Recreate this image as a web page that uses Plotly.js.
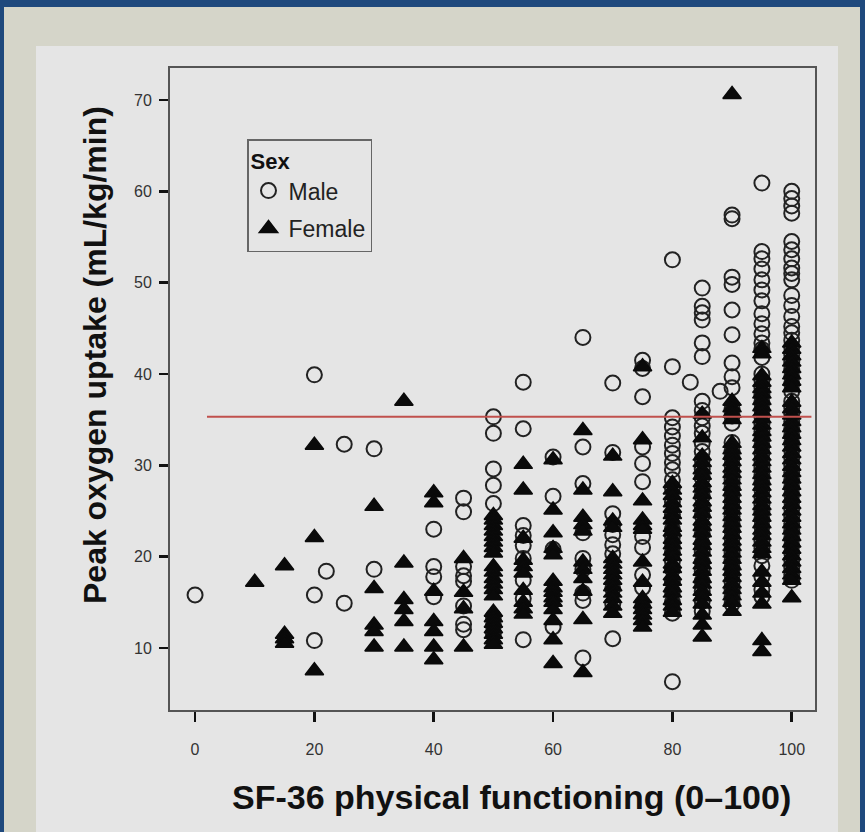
<!DOCTYPE html>
<html>
<head>
<meta charset="utf-8">
<script src="https://cdn.plot.ly/plotly-3.0.1.min.js"></script>
<style>
html,body{margin:0;padding:0;background:#1f497d;}
#chart{width:865px;height:832px;}
</style>
</head>
<body>
<div id="chart"></div>
<script>
// ---- data ----
const xTicks = [0, 20, 40, 60, 80, 100];
const yTicks = [10, 20, 30, 40, 50, 60, 70];

const maleCols = [0, 20, 22, 25, 30, 40, 45, 50, 55, 60, 65, 70, 75, 80, 83, 85, 88, 90, 95, 100];
const maleVals = [
  [15.8],
  [39.9, 15.8, 10.8],
  [18.4],
  [32.3, 14.9],
  [31.8, 18.6],
  [23.0, 18.9, 17.8, 15.6],
  [26.4, 24.9, 18.9, 17.9, 17.3, 14.6, 12.6, 12.0],
  [35.3, 33.5, 29.6, 27.8, 25.8, 13.4, 12.4, 11.6],
  [39.1, 34.0, 23.4, 22.3, 21.2, 19.8, 17.4, 15.4, 10.9],
  [30.9, 26.6, 20.8, 12.3],
  [44.0, 32.0, 28.0, 22.6, 19.8, 18.6, 16.0, 15.2, 8.9],
  [39.0, 31.4, 24.7, 23.5, 22.4, 21.3, 20.3, 16.5, 14.8, 11.0],
  [41.5, 40.6, 37.5, 32.0, 30.2, 28.2, 22.2, 21.0, 18.0, 16.6, 14.5],
  [52.5, 40.8, 35.2, 34.2, 33.2, 32.2, 31.3, 30.3, 29.5, 28.4, 27.5, 26.0, 24.6, 23.0, 22.2, 21.5, 20.4, 19.5, 18.6, 17.3, 16.2, 15.0, 13.8, 6.3],
  [39.1],
  [49.4, 47.4, 46.7, 45.9, 43.4, 41.9, 37.0, 36.0, 35.2, 34.3, 33.5, 32.4, 31.5, 30.6, 29.6, 28.6, 27.6, 26.6, 25.5, 24.5, 23.4, 22.5, 21.4, 20.5, 19.4, 18.4, 17.3, 16.2, 15.1, 14.0],
  [38.1],
  [57.4, 57.0, 50.6, 49.8, 47.0, 44.3, 41.2, 39.7, 38.5, 36.2, 35.4, 34.6, 32.5, 31.6, 30.8, 30.0, 29.2, 28.4, 27.6, 26.8, 26.0, 25.2, 24.4, 23.6, 22.8, 22.0, 21.2, 20.4, 19.6, 18.8, 18.0, 17.2, 16.4, 15.6, 14.8],
  [60.9, 53.4, 52.6, 51.5, 50.3, 49.2, 48.0, 46.6, 45.5, 44.4, 43.4, 42.7, 41.8, 40.0, 39.3, 38.5, 37.7, 36.9, 36.1, 35.3, 34.5, 33.7, 32.9, 32.1, 31.3, 30.5, 29.7, 28.9, 28.1, 27.3, 26.5, 25.7, 24.9, 24.1, 23.3, 22.5, 21.7, 20.9, 20.1, 19.0, 17.8, 16.4, 15.6],
  [60.0, 59.2, 58.4, 57.6, 54.5, 53.6, 52.6, 51.6, 51.0, 50.3, 48.6, 47.5, 46.3, 45.2, 44.5, 43.7, 42.9, 42.1, 41.3, 40.5, 39.7, 38.9, 38.1, 37.0, 36.3, 35.6, 34.8, 34.0, 33.2, 32.4, 31.6, 30.8, 30.0, 29.2, 28.4, 27.6, 26.8, 26.0, 25.2, 24.4, 23.6, 22.8, 22.0, 21.2, 20.4, 19.6, 18.8, 18.0, 17.4]
];

const femaleCols = [10, 15, 20, 30, 35, 40, 45, 50, 55, 60, 65, 70, 75, 80, 85, 90, 95, 100];
const femaleVals = [
  [17.2],
  [19.0, 11.5, 11.0, 10.5],
  [32.2, 22.1, 7.5],
  [25.5, 16.5, 12.5, 11.8, 10.1],
  [37.0, 19.3, 15.3, 14.2, 12.9, 10.1],
  [27.0, 25.9, 16.2, 12.9, 11.8, 10.1, 8.7],
  [19.8, 16.1, 14.3, 10.1],
  [24.5, 24.0, 23.4, 22.8, 22.2, 21.6, 21.0, 20.4, 18.9, 18.3, 17.6, 17.0, 16.4, 15.7, 13.9, 13.3, 12.7, 12.1, 11.5, 10.9, 10.4],
  [30.1, 27.3, 22.0, 19.6, 18.9, 18.2, 16.3, 15.0, 14.3, 13.7],
  [30.6, 25.1, 22.6, 20.9, 20.2, 17.3, 16.6, 16.1, 15.5, 15.0, 14.2, 13.0, 10.9, 8.3],
  [33.8, 27.3, 24.3, 23.5, 22.8, 19.4, 18.6, 17.6, 16.2, 13.1, 7.3],
  [31.0, 27.1, 23.9, 23.2, 19.8, 19.2, 18.6, 18.0, 17.4, 16.7, 16.0, 15.4, 14.6, 13.8],
  [40.8, 32.8, 26.1, 24.0, 23.4, 23.0, 19.4, 17.2, 15.4, 14.8, 14.2, 13.6, 13.0, 12.3],
  [28.0, 27.3, 26.7, 25.9, 25.3, 24.6, 24.0, 23.2, 22.7, 21.9, 21.3, 20.6, 20.0, 19.2, 18.7, 17.9, 17.3, 16.6, 16.0, 15.2, 14.6, 13.9],
  [35.6, 33.0, 31.0, 30.3, 29.5, 28.9, 28.1, 27.5, 26.8, 26.0, 25.4, 24.7, 23.9, 23.3, 22.6, 21.8, 21.2, 20.5, 19.7, 19.1, 18.4, 17.6, 17.0, 16.2, 15.6, 14.8, 13.6, 12.5, 11.2],
  [70.6, 37.0, 36.3, 35.7, 35.0, 32.4, 31.7, 31.1, 30.4, 29.7, 29.1, 28.4, 27.7, 27.1, 26.4, 25.7, 25.1, 24.4, 23.7, 23.1, 22.4, 21.7, 21.1, 20.4, 19.7, 19.0, 18.4, 17.7, 17.0, 16.4, 15.7, 15.0, 14.0],
  [42.8, 42.2, 39.8, 39.1, 38.4, 37.8, 37.1, 36.4, 35.8, 35.1, 34.4, 33.7, 33.1, 32.4, 31.7, 31.0, 30.4, 29.7, 29.0, 28.3, 27.7, 27.0, 26.3, 25.6, 25.0, 24.3, 23.6, 22.9, 22.3, 21.6, 20.9, 20.3, 18.3, 17.2, 16.0, 14.8, 10.8, 9.6],
  [43.4, 42.7, 42.0, 41.3, 40.6, 39.9, 39.2, 38.5, 36.9, 36.2, 35.5, 34.8, 34.1, 33.4, 32.7, 32.0, 31.3, 30.6, 29.9, 29.2, 28.5, 27.8, 27.1, 26.4, 25.7, 25.0, 24.3, 23.6, 22.9, 22.2, 21.5, 20.8, 20.1, 19.4, 18.7, 18.0, 17.4, 15.5]
];

const refLineX = [2.0, 103.3];
const refLineY = [35.3, 35.3];

// ---- build traces ----
function flatten(cols, vals) {
  const xs = [], ys = [];
  cols.forEach((c, i) => vals[i].forEach(v => { xs.push(c); ys.push(v); }));
  return {xs, ys};
}
const m = flatten(maleCols, maleVals);
const f = flatten(femaleCols, femaleVals);

// ---- geometry (pixels) ----
const W = 865, H = 832;
const L = 170, R = 815, T = 68, B = 710;
const PW = R - L, PH = B - T;
const px = v => (v - L) / PW;
const py = v => (B - v) / PH;

const traces = [
  {
    type: 'scatter', mode: 'markers', name: 'Male', legendgroup: 'm',
    x: m.xs, y: m.ys,
    marker: {symbol: 'circle-open', size: 15, color: '#222', line: {width: 2, color: '#222'}}
  },
  {
    type: 'scatter', mode: 'markers', name: 'Female', legendgroup: 'f',
    x: f.xs, y: f.ys,
    marker: {symbol: 'triangle-up', size: 16, color: '#0a0a0a', line: {width: 1.5, color: '#0a0a0a'}}
  },
  {
    type: 'scatter', mode: 'lines', x: refLineX, y: refLineY, showlegend: false,
    line: {color: '#c0504d', width: 2}, hoverinfo: 'skip'
  }
];

const layout = {
  width: W, height: H,
  margin: {l: L, r: W - R, t: T, b: H - B, pad: 0},
  paper_bgcolor: '#1f497d',
  plot_bgcolor: 'rgba(0,0,0,0)',
  font: {family: 'Liberation Sans, Arial, sans-serif', color: '#222'},
  showlegend: true,
  legend: {
    x: px(247), y: py(139), xanchor: 'left', yanchor: 'top',
    bgcolor: '#e5e5e5', bordercolor: '#666', borderwidth: 1.5,
    font: {size: 23, color: '#222'},
    title: {text: '<b>Sex</b>', font: {size: 22, color: '#111'}},
    traceorder: 'grouped', tracegroupgap: 5
  },
  xaxis: {
    range: [-4.2, 103.9], tickvals: xTicks, ticktext: xTicks.map(String),
    ticks: 'outside', ticklen: 10, tickwidth: 2.5, tickcolor: '#111',
    ticklabelstandoff: 14,
    showline: true, mirror: true, linecolor: '#555', linewidth: 2,
    showgrid: false, zeroline: false,
    tickfont: {size: 16, color: '#333'}
  },
  yaxis: {
    range: [3.2, 73.5], tickvals: yTicks, ticktext: yTicks.map(String),
    ticks: 'outside', ticklen: 9, tickwidth: 2.5, tickcolor: '#111',
    ticklabelstandoff: 4,
    showline: true, mirror: true, linecolor: '#555', linewidth: 2,
    showgrid: false, zeroline: false,
    tickfont: {size: 16, color: '#333'}
  },
  shapes: [
    {type: 'rect', xref: 'paper', yref: 'paper', layer: 'below',
     x0: px(4), x1: px(860), y0: py(H + 5), y1: py(7),
     fillcolor: '#d5d5c9', line: {width: 0}},
    {type: 'rect', xref: 'paper', yref: 'paper', layer: 'below',
     x0: px(36), x1: px(838), y0: py(H + 5), y1: py(46),
     fillcolor: '#e5e5e5', line: {width: 0}}
  ],
  annotations: [
    {text: '<b>Peak oxygen uptake (mL/kg/min)</b>', xref: 'paper', yref: 'paper',
     x: px(95), y: py(355), xanchor: 'center', yanchor: 'middle', textangle: -90,
     showarrow: false, font: {size: 32, color: '#111'}},
    {text: '<b>SF-36 physical functioning (0–100)</b>', xref: 'paper', yref: 'paper',
     x: px(511), y: py(797), xanchor: 'center', yanchor: 'middle',
     showarrow: false, font: {size: 34, color: '#111'}}
  ]
};

Plotly.newPlot('chart', traces, layout, {displayModeBar: false, staticPlot: true});
</script>
</body>
</html>
